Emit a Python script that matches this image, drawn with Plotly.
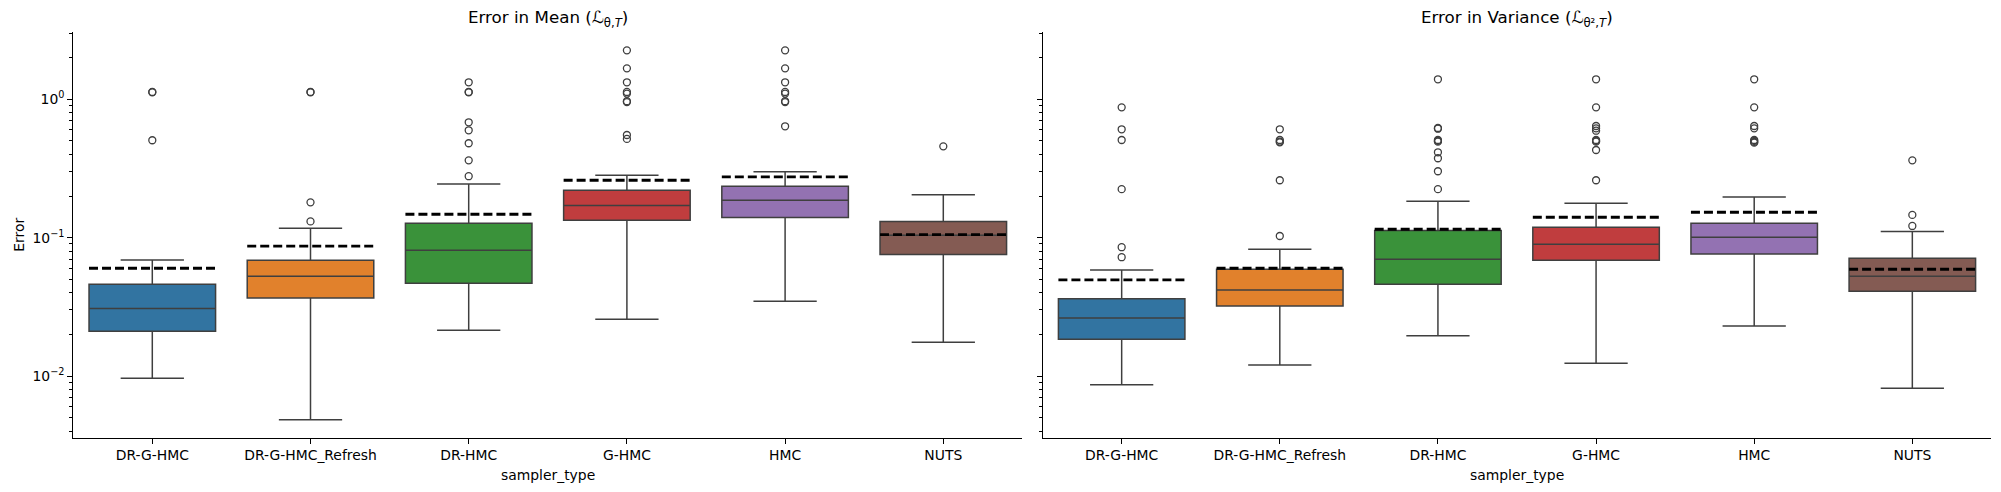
import plotly.graph_objects as go

# ---------------- data ----------------
categories = ["DR-G-HMC", "DR-G-HMC_Refresh", "DR-HMC", "G-HMC", "HMC", "NUTS"]
colors = ["#3274a1", "#e1812c", "#3a923a", "#c03d3e", "#9372b2", "#845b53"]

# Error in Mean
mean_lo = [0.00964, 0.00482, 0.0214, 0.0257, 0.0347, 0.01754]
mean_q1 = [0.0211, 0.0367, 0.0469, 0.1335, 0.140, 0.0754]
mean_med = [0.0307, 0.0526, 0.0811, 0.171, 0.186, 0.104]
mean_q3 = [0.0461, 0.0687, 0.127, 0.220, 0.235, 0.131]
mean_hi = [0.069, 0.117, 0.244, 0.282, 0.300, 0.204]
mean_ref = [0.0601, 0.0867, 0.1476, 0.260, 0.275, 0.105]
mean_out = [
    [1.124, 1.13, 0.506],
    [1.124, 1.13, 0.180, 0.131],
    [1.327, 1.124, 1.13, 0.682, 0.597, 0.481, 0.362, 0.278],
    [2.26, 1.675, 1.327, 1.13, 1.10, 0.97, 0.955, 0.552, 0.517],
    [2.26, 1.675, 1.327, 1.13, 1.10, 0.97, 0.955, 0.638],
    [0.457],
]

# Error in Variance
var_lo = [0.00863, 0.0120, 0.0195, 0.01236, 0.0230, 0.00816]
var_q1 = [0.01845, 0.0321, 0.0461, 0.0687, 0.0762, 0.0410]
var_med = [0.0262, 0.0419, 0.0698, 0.0896, 0.1007, 0.0526]
var_q3 = [0.0361, 0.0590, 0.1124, 0.119, 0.127, 0.0710]
var_hi = [0.0584, 0.0824, 0.183, 0.177, 0.197, 0.111]
var_ref = [0.0495, 0.0601, 0.115, 0.1404, 0.1526, 0.0591]
var_out = [
    [0.875, 0.607, 0.508, 0.224, 0.0853, 0.0722],
    [0.607, 0.508, 0.495, 0.489, 0.260, 0.1028],
    [1.395, 0.62, 0.613, 0.508, 0.500, 0.494, 0.414, 0.375, 0.302, 0.224],
    [1.395, 0.875, 0.641, 0.617, 0.593, 0.508, 0.500, 0.494, 0.430, 0.260],
    [1.395, 0.875, 0.641, 0.617, 0.508, 0.500, 0.492, 0.486],
    [0.362, 0.146, 0.1215],
]

ytick_vals = [0.01, 0.1, 1]
ytick_text = ["10<sup>\u22122</sup>", "10<sup>\u22121</sup>", "10<sup>0</sup>"]

titles = ["Error in Mean (\u2112<sub>\u03b8,<i>T</i></sub>)",
          "Error in Variance (\u2112<sub>\u03b8\u00b2,<i>T</i></sub>)"]
xlabel = "sampler_type"
ylabel = "Error"

# ---------------- figure ----------------
W, H = 2001, 492
FONT = "DejaVu Sans"
EDGE = "#3f3f3f"

fig = go.Figure()

panels = [
    ("x", "y", mean_lo, mean_q1, mean_med, mean_q3, mean_hi, mean_ref, mean_out),
    ("x2", "y2", var_lo, var_q1, var_med, var_q3, var_hi, var_ref, var_out),
]

for xa, ya, lo, q1, med, q3, hi, ref, outs in panels:
    for i, cat in enumerate(categories):
        fig.add_trace(go.Box(
            x=[i], q1=[q1[i]], median=[med[i]], q3=[q3[i]],
            lowerfence=[lo[i]], upperfence=[hi[i]],
            width=0.8, whiskerwidth=0.5, fillcolor=colors[i],
            line=dict(color=EDGE, width=1.5), boxpoints=False,
            xaxis=xa, yaxis=ya, showlegend=False, name=cat))
    for i, cat in enumerate(categories):
        fig.add_trace(go.Scatter(
            x=[i - 0.4, i + 0.4], y=[ref[i], ref[i]], mode="lines",
            line=dict(color="black", width=2.8, dash="9px,4px"),
            xaxis=xa, yaxis=ya, showlegend=False, hoverinfo="skip"))
    for i, cat in enumerate(categories):
        fig.add_trace(go.Scatter(
            x=[i] * len(outs[i]), y=outs[i], mode="markers",
            marker=dict(symbol="circle-open", size=7, color=EDGE,
                        line=dict(width=1.3, color=EDGE)),
            xaxis=xa, yaxis=ya, showlegend=False))

# pixel geometry
def fx(px):
    return px / W

def fy(py):
    return (H - py) / H

ax_top, ax_bot = 31.7, 437.7
left_dom = [fx(73.2), fx(1022.4)]
right_dom = [fx(1042.6), fx(1991.4)]
ydom = [fy(ax_bot), fy(ax_top)]
yrange = [-2.446, 0.4886]

minor_vals = [k * 10.0 ** e for e in (-3, -2, -1, 0) for k in range(2, 10)]

xaxis_common = dict(
    range=[-0.5, 5.5], tickmode="array", tickvals=list(range(len(categories))),
    ticktext=categories, showline=True, linecolor="black", linewidth=1.1,
    ticks="outside", ticklen=4.9, tickwidth=1.1, tickcolor="black",
    showgrid=False, zeroline=False, automargin=False,
    tickfont=dict(family=FONT, size=13.9, color="black"),
)
yaxis_common = dict(
    type="log", range=yrange, domain=ydom, tickmode="array",
    tickvals=ytick_vals, ticktext=ytick_text,
    showline=True, linecolor="black", linewidth=1.1,
    ticks="outside", ticklen=4.9, tickwidth=1.1, tickcolor="black",
    minor=dict(tickmode="array", tickvals=minor_vals, ticks="outside",
               ticklen=2.8, tickwidth=0.8, tickcolor="black", showgrid=False),
    showgrid=False, zeroline=False, automargin=False,
    tickfont=dict(family=FONT, size=13.9, color="black"),
)

fig.update_layout(
    width=W, height=H, margin=dict(l=0, r=0, t=0, b=0),
    paper_bgcolor="white", plot_bgcolor="white", boxmode="overlay",
    template="none", showlegend=False,
    xaxis=dict(domain=left_dom, anchor="y", **xaxis_common),
    xaxis2=dict(domain=right_dom, anchor="y2", **xaxis_common),
    yaxis=dict(anchor="x", **yaxis_common),
    yaxis2=dict(anchor="x2", matches="y", showticklabels=False, **yaxis_common),
    font=dict(family=FONT, color="black"),
)

annotations = []
for dom, t in zip([left_dom, right_dom], titles):
    cx = (dom[0] + dom[1]) / 2
    annotations.append(dict(text=t, x=cx, y=fy(18), xref="paper", yref="paper",
                            xanchor="center", yanchor="middle", showarrow=False,
                            font=dict(family=FONT, size=16.7, color="black")))
    annotations.append(dict(text=xlabel, x=cx, y=fy(475), xref="paper", yref="paper",
                            xanchor="center", yanchor="middle", showarrow=False,
                            font=dict(family=FONT, size=13.9, color="black")))
annotations.append(dict(text=ylabel, x=fx(19), y=fy((ax_top + ax_bot) / 2),
                        xref="paper", yref="paper", xanchor="center", yanchor="middle",
                        textangle=-90, showarrow=False,
                        font=dict(family=FONT, size=13.9, color="black")))
fig.update_layout(annotations=annotations)

fig.write_html("out.html", config={"displayModeBar": False},
               post_script="document.body.style.margin='0';")
